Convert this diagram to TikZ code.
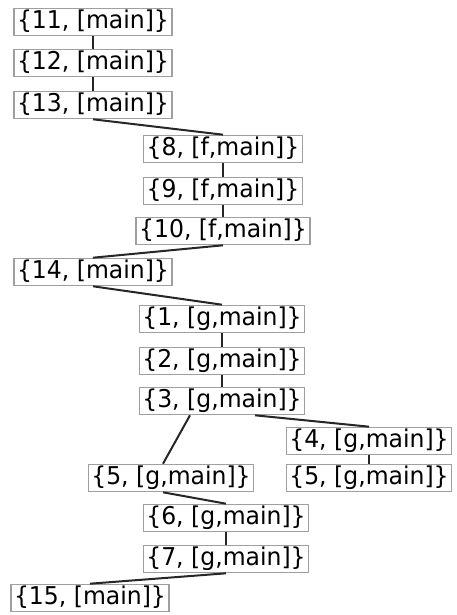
\documentclass[tikz,border=0pt]{standalone}
\usepackage{fontspec}
\setmainfont{DejaVu Sans}[FakeStretch=0.96]
\usetikzlibrary{calc}
\begin{document}
\begin{tikzpicture}[x=1pt,y=-1pt,
  box/.style={draw=gray!75,line width=1.6pt,fill=white,inner xsep=3pt,inner ysep=0pt,
    minimum height=27pt,text height=18.5pt,text depth=5pt,font=\fontsize{24.5}{28}\selectfont},
  edge/.style={draw=black!85,line width=2pt}]
\useasboundingbox (0,0) rectangle (456,615);
\node[box] (n11) at (93,22) {\{11, [main]\}};
\node[box] (n12) at (93,63) {\{12, [main]\}};
\node[box] (n13) at (93,105) {\{13, [main]\}};
\node[box] (n8) at (223,149) {\{8, [f,main]\}};
\node[box] (n9) at (223,191) {\{9, [f,main]\}};
\node[box] (n10) at (223,231) {\{10, [f,main]\}};
\node[box] (n14) at (93,272) {\{14, [main]\}};
\node[box] (n1) at (222,319) {\{1, [g,main]\}};
\node[box] (n2) at (222,361) {\{2, [g,main]\}};
\node[box] (n3) at (222,401) {\{3, [g,main]\}};
\node[box] (n4) at (369,441) {\{4, [g,main]\}};
\node[box] (n5b) at (369,478) {\{5, [g,main]\}};
\node[box] (n5a) at (171,478) {\{5, [g,main]\}};
\node[box] (n6) at (226,518) {\{6, [g,main]\}};
\node[box] (n7) at (226,559) {\{7, [g,main]\}};
\node[box] (n15) at (90,598) {\{15, [main]\}};
\draw[edge] (n11.south) -- (n12.north);
\draw[edge] (n12.south) -- (n13.north);
\draw[edge] (n13.south) -- (n8.north);
\draw[edge] (n8.south) -- (n9.north);
\draw[edge] (n9.south) -- (n10.north);
\draw[edge] (n10.south) -- (n14.north);
\draw[edge] (n14.south) -- (n1.north);
\draw[edge] (n1.south) -- (n2.north);
\draw[edge] (n2.south) -- (n3.north);
\draw[edge] ($(n3.south)+(-32,0)$) -- ($(n5a.north)+(-8,0)$);
\draw[edge] ($(n3.south)+(33,0)$) -- (n4.north);
\draw[edge] (n4.south) -- (n5b.north);
\draw[edge] ($(n5a.south)+(-8,0)$) -- (n6.north);
\draw[edge] (n6.south) -- (n7.north);
\draw[edge] (n7.south) -- (n15.north);
\end{tikzpicture}
\end{document}
